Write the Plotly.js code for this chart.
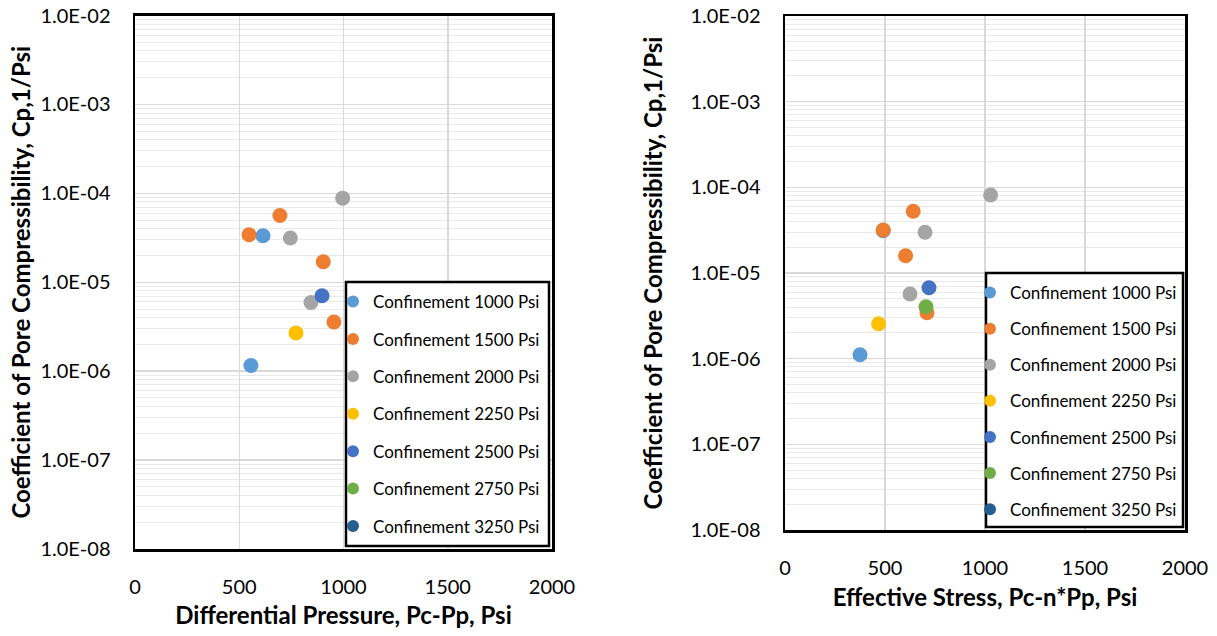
<!DOCTYPE html>
<html>
<head>
<meta charset="utf-8">
<script src="https://cdn.plot.ly/plotly-3.0.1.min.js"></script>
<style>html,body{margin:0;padding:0;background:#fff;}#chart{width:1217px;height:636px;}</style>
</head>
<body>
<div id="chart"></div>
<script>
// ---- Data ----
const seriesNames = ["Confinement 1000 Psi","Confinement 1500 Psi","Confinement 2000 Psi","Confinement 2250 Psi","Confinement 2500 Psi","Confinement 2750 Psi","Confinement 3250 Psi"];
const seriesColors = ["#5B9BD5","#ED7D31","#A5A5A5","#FFC000","#4472C4","#70AD47","#255E91"];

// Left chart: Differential Pressure (Pc-Pp, Psi) vs Cp (1/Psi)
const dpX1000 = [614, 556];
const dpY1000 = [3.33e-5, 1.16e-6];
const dpX1500 = [547, 695, 903, 954];
const dpY1500 = [3.42e-5, 5.63e-5, 1.70e-5, 3.57e-6];
const dpX2000 = [996, 745, 844];
const dpY2000 = [8.83e-5, 3.14e-5, 5.93e-6];
const dpX2250 = [772];
const dpY2250 = [2.69e-6];
const dpX2500 = [897];
const dpY2500 = [7.05e-6];
const dpX2750 = [null];   // no visible point (legend entry only)
const dpY2750 = [null];
const dpX3250 = [null];
const dpY3250 = [null];

// Right chart: Effective Stress (Pc-n*Pp, Psi) vs Cp (1/Psi)
const esX1000 = [491, 375];
const esY1000 = [3.12e-5, 1.11e-6];
const esX1500 = [491, 641, 603, 710];
const esY1500 = [3.18e-5, 5.25e-5, 1.59e-5, 3.44e-6];
const esX2000 = [1028, 700, 625];
const esY2000 = [8.14e-5, 2.99e-5, 5.69e-6];
const esX2250 = [468];
const esY2250 = [2.56e-6];
const esX2500 = [720];
const esY2500 = [6.74e-6];
const esX2750 = [705];
const esY2750 = [4.04e-6];
const esX3250 = [null];
const esY3250 = [null];

const yTickVals = [1e-8, 1e-7, 1e-6, 1e-5, 1e-4, 1e-3, 1e-2];
const yTickText = ["1.0E-08","1.0E-07","1.0E-06","1.0E-05","1.0E-04","1.0E-03","1.0E-02"];
const xTickVals = [0, 500, 1000, 1500, 2000];
const xTickText = ["0","500","1000","1500","2000"];

const leftX = [dpX1000, dpX1500, dpX2000, dpX2250, dpX2500, dpX2750, dpX3250];
const leftY = [dpY1000, dpY1500, dpY2000, dpY2250, dpY2500, dpY2750, dpY3250];
const rightX = [esX1000, esX1500, esX2000, esX2250, esX2500, esX2750, esX3250];
const rightY = [esY1000, esY1500, esY2000, esY2250, esY2500, esY2750, esY3250];

// ---- Traces ----
const FONT = "Lato, 'Open Sans', sans-serif";
const traces = [];
seriesNames.forEach((name, i) => {
  traces.push({
    type: "scatter", mode: "markers", name: name,
    x: leftX[i], y: leftY[i], xaxis: "x", yaxis: "y",
    marker: {color: seriesColors[i], size: 15},
    legend: "legend", legendgroup: "L" + i
  });
});
seriesNames.forEach((name, i) => {
  traces.push({
    type: "scatter", mode: "markers", name: name,
    x: rightX[i], y: rightY[i], xaxis: "x2", yaxis: "y2",
    marker: {color: seriesColors[i], size: 15},
    legend: "legend2", legendgroup: "R" + i
  });
});

const W = 1217, H = 636;
const px = v => v / W;
const py = v => (H - v) / H;

function xAxis(domain, anchor, title, standoff) {
  return {
    domain: domain, anchor: anchor, range: [0, 2000],
    tickmode: "array", tickvals: xTickVals, ticktext: xTickText,
    showgrid: true, gridcolor: "#d9d9d9", gridwidth: 1.5,
    zeroline: false, showline: true, linecolor: "#000", linewidth: 2.5, mirror: true,
    ticks: "", ticklabelstandoff: 18,
    tickfont: {family: FONT, size: 20, color: "#000"},
    title: {text: title, font: {family: FONT, size: 24, color: "#000", weight: "bold"}, standoff: standoff}
  };
}
function yAxis(domain, anchor, standoff) {
  return {
    domain: domain, anchor: anchor, type: "log", range: [-8, -2],
    tickmode: "array", tickvals: yTickVals, ticktext: yTickText,
    showgrid: true, gridcolor: "#d9d9d9", gridwidth: 1.5,
    minor: {dtick: "D1", showgrid: true, gridcolor: "#e9e9e9", gridwidth: 1, ticks: ""},
    zeroline: false, showline: true, linecolor: "#000", linewidth: 2.5, mirror: true,
    ticks: "", ticklabelstandoff: 18,
    tickfont: {family: FONT, size: 20, color: "#000"},
    title: {text: "Coefficient of Pore Compressibility, Cp,1/Psi", font: {family: FONT, size: 24, color: "#000", weight: "bold"}, standoff: standoff}
  };
}

const legendCommon = {
  bgcolor: "rgba(0,0,0,0)", borderwidth: 0,
  font: {family: FONT, size: 17, color: "#000"},
  itemsizing: "constant", traceorder: "grouped",
  xanchor: "left", yanchor: "top", itemclick: false, itemdoubleclick: false
};

const layout = {
  width: W, height: H,
  margin: {l: 0, r: 0, t: 0, b: 0},
  paper_bgcolor: "#fff", plot_bgcolor: "#fff",
  showlegend: true,
  xaxis: xAxis([px(135), px(552)], "y", "Differential Pressure, Pc-Pp, Psi", 11),
  yaxis: yAxis([py(549), py(15.5)], "x", 3),
  xaxis2: xAxis([px(785), px(1185)], "y2", "Effective Stress, Pc-n*Pp, Psi", 12),
  yaxis2: yAxis([py(530), py(16)], "x2", 21),
  legend: Object.assign({}, legendCommon, {x: px(333), y: py(284), tracegroupgap: 12.3}),
  legend2: Object.assign({}, legendCommon, {x: px(970), y: py(275), tracegroupgap: 11}),
  shapes: [
    {type: "rect", xref: "paper", yref: "paper", x0: px(346), x1: px(549), y0: py(546), y1: py(282),
     fillcolor: "#fff", line: {color: "#000", width: 2.5}, layer: "above"},
    {type: "rect", xref: "paper", yref: "paper", x0: px(986), x1: px(1183), y0: py(527), y1: py(273),
     fillcolor: "#fff", line: {color: "#000", width: 2.5}, layer: "above"}
  ]
};

Plotly.newPlot("chart", traces, layout, {displayModeBar: false, staticPlot: true});
</script>
</body>
</html>
